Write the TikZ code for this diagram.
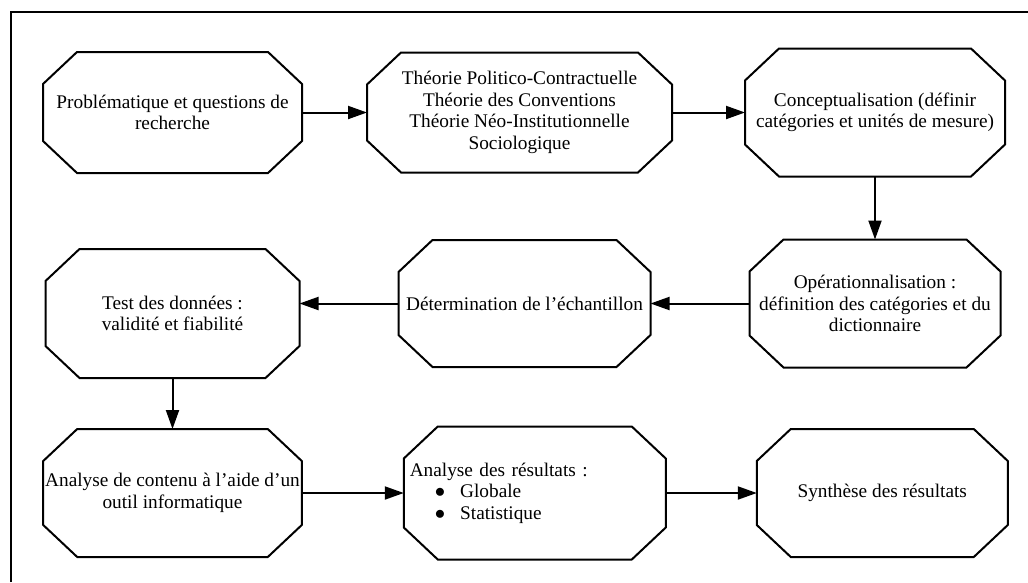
\documentclass[tikz,border=0pt]{standalone}
\usepackage{fontspec}
\setmainfont{Liberation Serif}
\usepackage{tikz}
\usetikzlibrary{arrows.meta, positioning}

\begin{document}
\begin{tikzpicture}[x=1pt, y=-1pt,
  phase/.style={rectangle, outer sep=0pt, inner sep=2pt, align=center,
                font=\fontsize{19.3pt}{21.5pt}\selectfont},
  octo/.style={line width=2pt, line join=miter},
  arr/.style={-{Triangle[length=19pt,width=13pt]}, line width=2pt}
]
  \useasboundingbox (0,0) rectangle (1028,582);
  \draw[line width=2pt] (11,582) -- (11,12) -- (1028,12);

  \node[phase, minimum width=259pt, minimum height=121pt] (prob) at (172.5,112.5)
    {Problématique et questions de\\recherche};
  \node[phase, minimum width=305pt, minimum height=120pt, right=65pt of prob] (theo)
    {Théorie Politico-Contractuelle\\Théorie des Conventions\\Théorie Néo-Institutionnelle\\Sociologique};
  \node[phase, minimum width=260pt, minimum height=128pt, right=73pt of theo] (concept)
    {Conceptualisation (définir\\catégories et unités de mesure)};
  \node[phase, minimum width=251pt, minimum height=128pt, below=63pt of concept] (oper)
    {Opérationnalisation :\\définition des catégories et du\\dictionnaire};
  \node[phase, minimum width=252pt, minimum height=127pt, left=99pt of oper] (echant)
    {Détermination de l’échantillon};
  \node[phase, minimum width=254pt, minimum height=129pt, below=76pt of prob] (test)
    {Test des données :\\validité et fiabilité};
  \node[phase, minimum width=254pt, minimum height=128pt, below=51pt of test] (analyse)
    {Analyse de contenu à l’aide d’un\\outil informatique};
  \node[phase, minimum width=262pt, minimum height=133pt, right=102pt of analyse,
        text width=250pt, align=left, inner xsep=6pt] (result)
    {Analyse des résultats :\\
     \hspace*{25pt}$\bullet$\hspace{15pt}Globale\\
     \hspace*{25pt}$\bullet$\hspace{15pt}Statistique};
  \node[phase, minimum width=251pt, minimum height=128pt, right=91pt of result] (synth)
    {Synthèse des résultats};

  % octagon outlines
  \foreach \n in {prob,theo,concept,oper,echant,test,analyse,result,synth}
    \draw[octo] ([xshift=34pt]\n.north west) -- ([xshift=-34pt]\n.north east)
      -- ([yshift=-32pt]\n.north east) -- ([yshift=32pt]\n.south east)
      -- ([xshift=-34pt]\n.south east) -- ([xshift=34pt]\n.south west)
      -- ([yshift=32pt]\n.south west) -- ([yshift=-32pt]\n.north west) -- cycle;

  \draw[arr] (prob) -- (theo);
  \draw[arr] (theo) -- (concept);
  \draw[arr] (concept) -- (oper);
  \draw[arr] (oper) -- (echant);
  \draw[arr] (echant) -- (echant -| test.east);
  \draw[arr] (test) -- (analyse);
  % bottom row
  \draw[arr] (analyse) -- (result);
  \draw[arr] (result) -- (synth);
\end{tikzpicture}
\end{document}
